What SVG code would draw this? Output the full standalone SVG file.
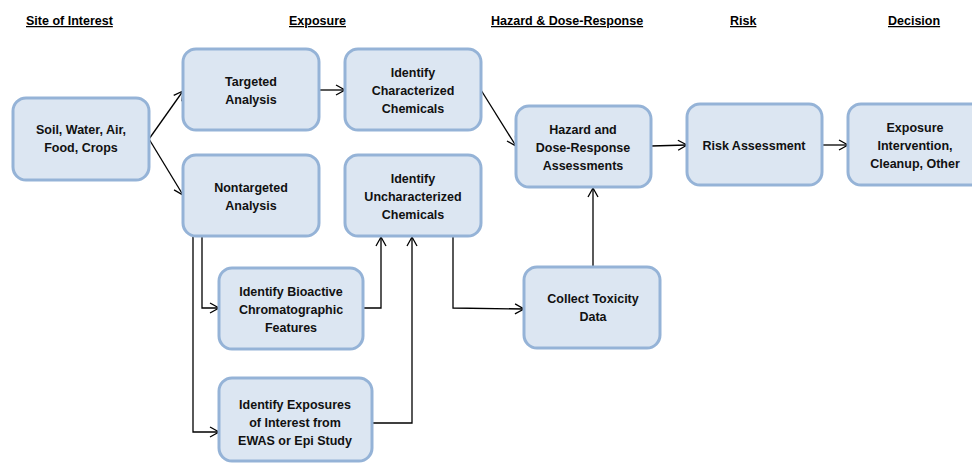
<svg xmlns="http://www.w3.org/2000/svg" width="972" height="463" viewBox="0 0 972 463">
<style>
.box{fill:#DCE6F2;stroke:#95B3D7;stroke-width:3}
.t{font-family:"Liberation Sans",Arial,sans-serif;font-weight:bold;font-size:12.5px;fill:#111;text-anchor:middle}
.h{font-family:"Liberation Sans",Arial,sans-serif;font-weight:bold;font-size:12.5px;fill:#000;text-decoration:underline}
.c{fill:none;stroke:#000;stroke-width:1.3}
</style>
<defs>
<marker id="a" markerWidth="12" markerHeight="12" refX="10" refY="6" orient="auto" markerUnits="userSpaceOnUse">
<path d="M1,1 L10,6 L1,11" fill="none" stroke="#000" stroke-width="1.3"/>
</marker>
</defs>
<g id="headers">
<text class="h" x="26" y="25">Site of Interest</text>
<text class="h" x="289" y="25">Exposure </text>
<text class="h" x="491" y="25">Hazard &amp; Dose-Response</text>
<text class="h" x="730" y="25">Risk</text>
<text class="h" x="888" y="25">Decision</text>
</g>
<g id="connectors">
<path class="c" d="M149,139 L183,91" marker-end="url(#a)"/>
<path class="c" d="M149,139 L183,195" marker-end="url(#a)"/>
<path class="c" d="M319,90 L345,90" marker-end="url(#a)"/>
<path class="c" d="M481,90 L516,146" marker-end="url(#a)"/>
<path class="c" d="M651,146 L687,145" marker-end="url(#a)"/>
<path class="c" d="M822,145 L848,145" marker-end="url(#a)"/>
<path class="c" d="M202,236 L202,308 L219,308" marker-end="url(#a)"/>
<path class="c" d="M193,236 L193,432 L219,432" marker-end="url(#a)"/>
<path class="c" d="M363,308 L381,308 L381,237" marker-end="url(#a)"/>
<path class="c" d="M372,423 L412,423 L412,237" marker-end="url(#a)"/>
<path class="c" d="M453,236 L453,308 L524,309" marker-end="url(#a)"/>
<path class="c" d="M593,267 L593,188" marker-end="url(#a)"/>
</g>
<g id="soil">
<rect class="box" x="13" y="98" width="136" height="82" rx="13"/>
<text class="t" x="81" y="134">Soil, Water, Air,</text>
<text class="t" x="81" y="152">Food, Crops</text>
</g>
<g id="targeted">
<rect class="box" x="183" y="49" width="136" height="81" rx="13"/>
<text class="t" x="251" y="86">Targeted</text>
<text class="t" x="251" y="104">Analysis</text>
</g>
<g id="characterized">
<rect class="box" x="345" y="49" width="136" height="81" rx="13"/>
<text class="t" x="413" y="77">Identify</text>
<text class="t" x="413" y="95">Characterized</text>
<text class="t" x="413" y="113">Chemicals</text>
</g>
<g id="nontargeted">
<rect class="box" x="183" y="155" width="136" height="81" rx="13"/>
<text class="t" x="251" y="192">Nontargeted</text>
<text class="t" x="251" y="210">Analysis</text>
</g>
<g id="uncharacterized">
<rect class="box" x="345" y="155" width="136" height="81" rx="13"/>
<text class="t" x="413" y="183">Identify</text>
<text class="t" x="413" y="201">Uncharacterized</text>
<text class="t" x="413" y="219">Chemicals</text>
</g>
<g id="hazard">
<rect class="box" x="516" y="106" width="135" height="81" rx="13"/>
<text class="t" x="583" y="134">Hazard and</text>
<text class="t" x="583" y="152">Dose-Response</text>
<text class="t" x="583" y="170">Assessments</text>
</g>
<g id="risk">
<rect class="box" x="687" y="104" width="135" height="81" rx="13"/>
<text class="t" x="754" y="150">Risk Assessment</text>
</g>
<g id="decision">
<rect class="box" x="848" y="104" width="136" height="81" rx="13"/>
<text class="t" x="915" y="132">Exposure</text>
<text class="t" x="915" y="150">Intervention,</text>
<text class="t" x="915" y="168">Cleanup, Other</text>
</g>
<g id="bioactive">
<rect class="box" x="219" y="268" width="144" height="81" rx="13"/>
<text class="t" x="291" y="296">Identify Bioactive</text>
<text class="t" x="291" y="314">Chromatographic</text>
<text class="t" x="291" y="332">Features</text>
</g>
<g id="ewas">
<rect class="box" x="219" y="378" width="153" height="83" rx="13"/>
<text class="t" x="295" y="409">Identify Exposures</text>
<text class="t" x="295" y="427">of Interest from</text>
<text class="t" x="295" y="445">EWAS or Epi Study</text>
</g>
<g id="toxicity">
<rect class="box" x="524" y="267" width="136" height="81" rx="13"/>
<text class="t" x="593" y="303">Collect Toxicity</text>
<text class="t" x="593" y="321">Data</text>
</g>
</svg>
